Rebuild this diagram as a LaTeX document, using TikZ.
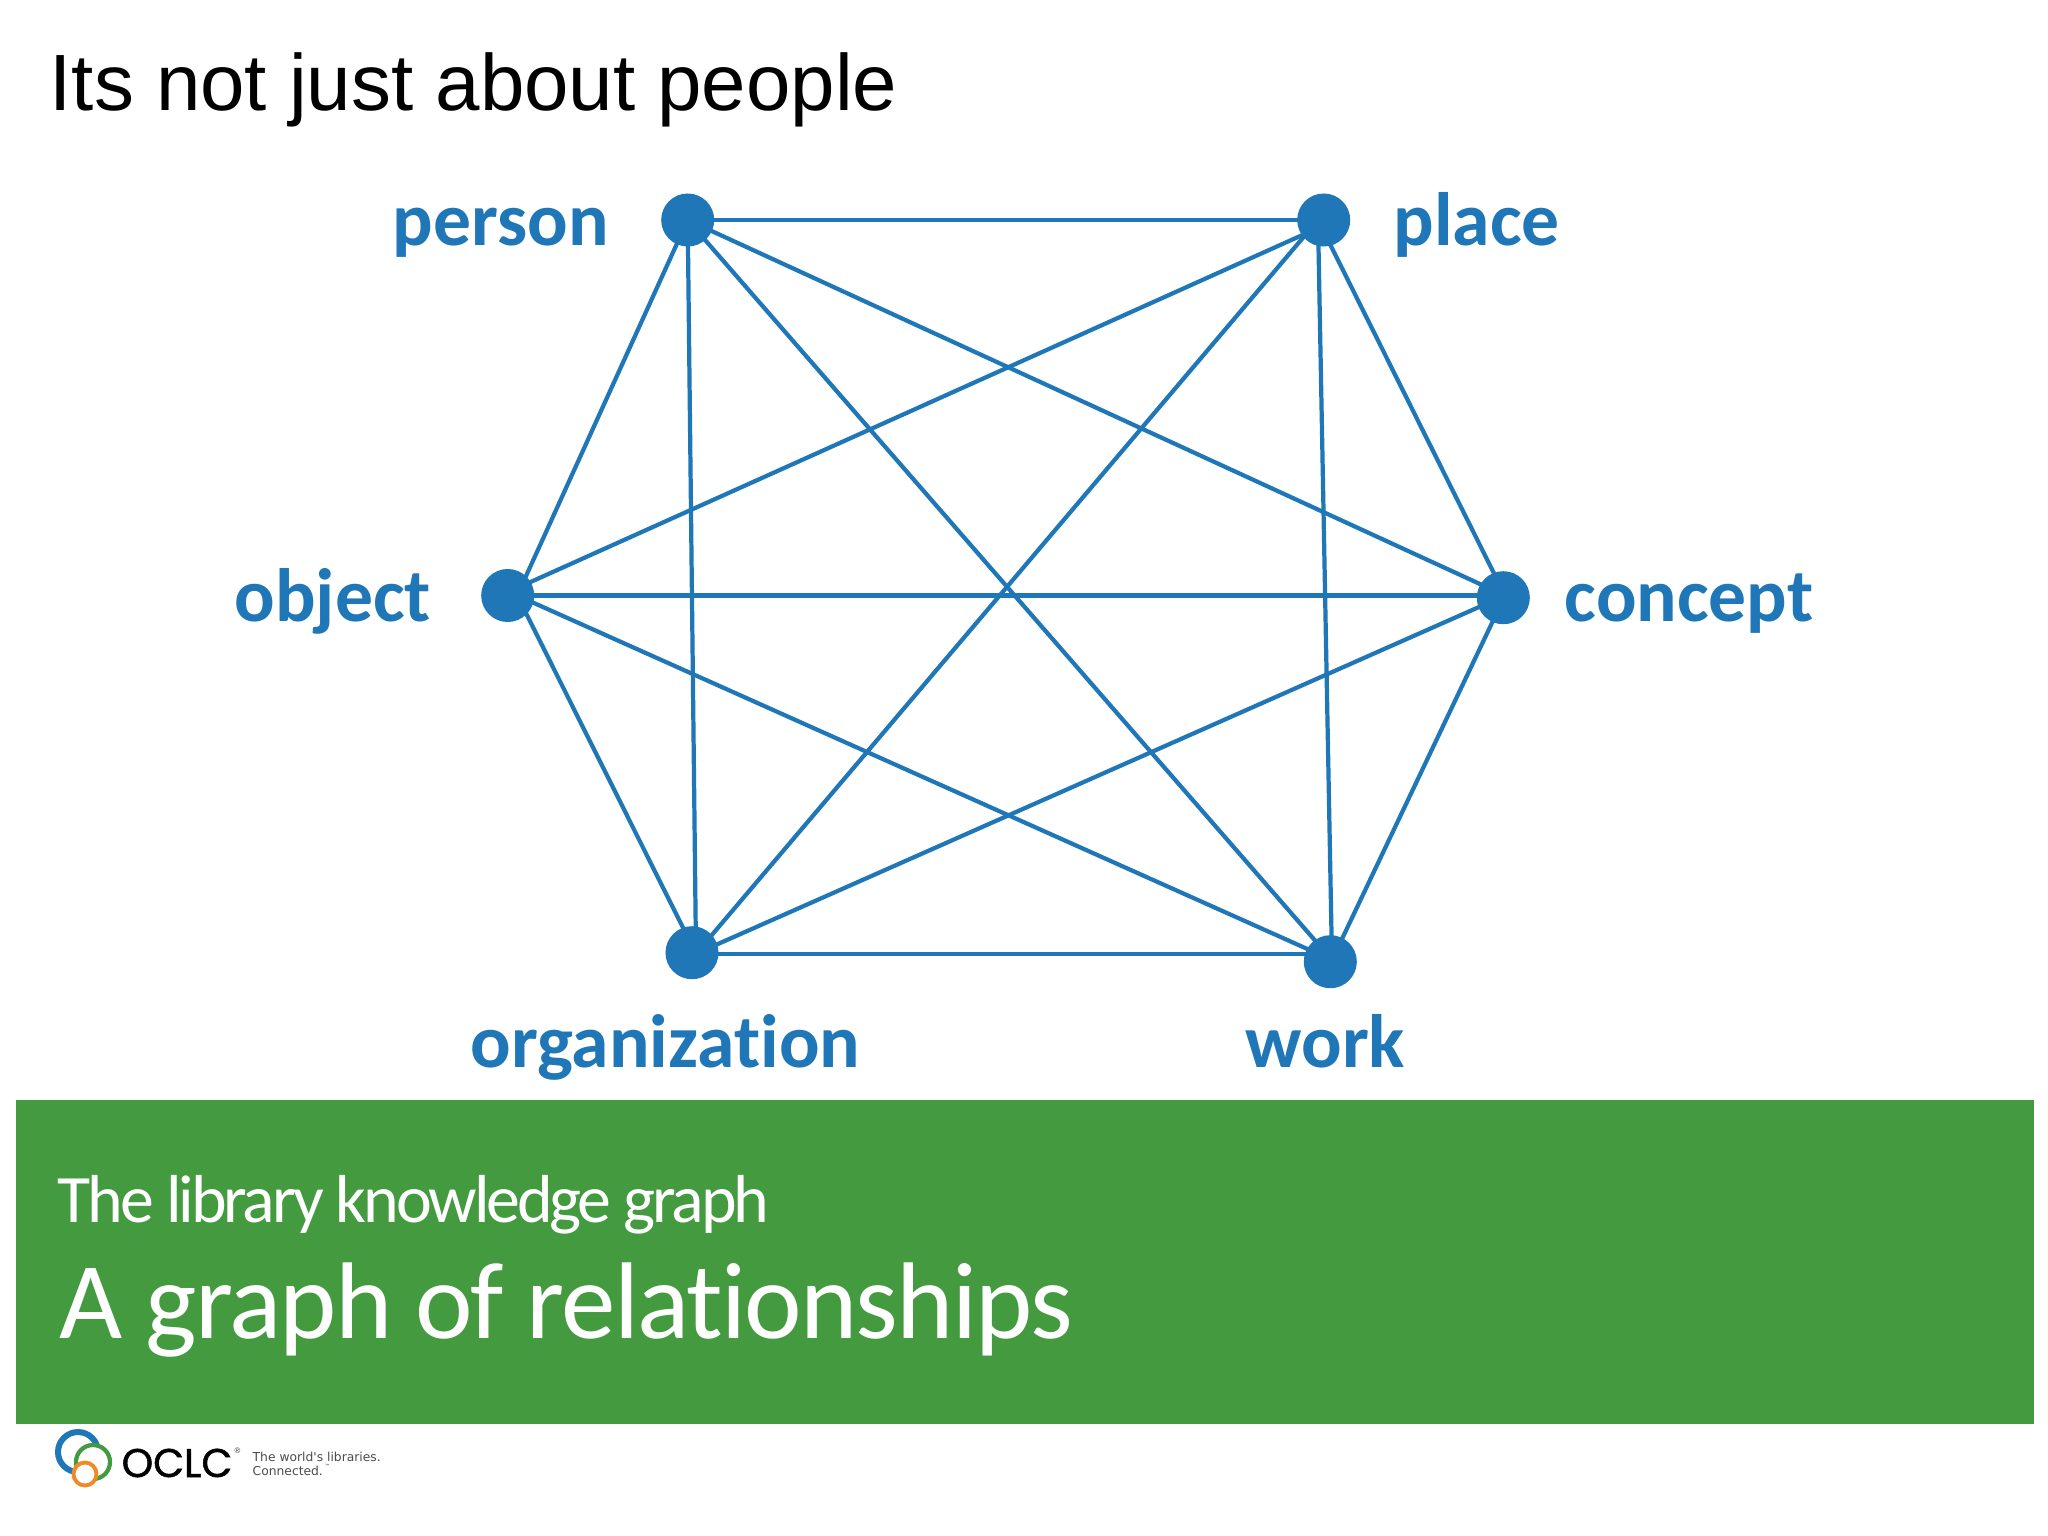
\documentclass[tikz,border=0pt]{standalone}
\usepackage{fontspec}
\setmainfont[Ligatures=NoCommon]{Carlito}
\newfontfamily\titlefont{Liberation Sans}
\newfontfamily\oclcfont[FakeBold=1.3]{Poppins}
\newfontfamily\tagfont{DejaVu Sans}
\usetikzlibrary{backgrounds,calc}
\definecolor{graphblue}{HTML}{1F77B7}
\definecolor{bannergreen}{HTML}{439A3F}
\definecolor{logoorange}{HTML}{F08A24}
\tikzset{
    vertex/.style={circle,fill=graphblue,inner sep=0pt,minimum size=0.53cm},
    edge/.style={graphblue,line width=1.2pt},
    vlabel/.style={anchor=base west,inner sep=0pt,text=graphblue,font=\fontsize{21.5}{24}\selectfont\bfseries},
    banner/.style={anchor=base west,inner sep=0pt,text=white},
    tagline/.style={anchor=base west,inner sep=0pt,text=black!70}
}
\begin{document}
\begin{tikzpicture}[x=0.01cm,y=-0.01cm]
                    \useasboundingbox (0,0) rectangle (2048,1536);

                    \node[anchor=base west,inner sep=0pt,font=\titlefont\fontsize{22.7}{26}\selectfont] (title) at (49,110) {Its not just about people};

                    \node[vertex] (person) at (687.7,220) {};
                    \node[vertex] (place) at (1323.7,220) {};
                    \node[vertex] (object) at (507.7,595.5) {};
                    \node[vertex] (concept) at (1503.3,597.7) {};
                    \node[vertex] (organization) at (692,952.7) {};
                    \node[vertex] (work) at (1330.3,961.7) {};

                    \coordinate (placehub) at ($(place)+(-5.7,0)$);
                    \coordinate (placelow) at ($(place)+(-5.7,8)$);
                    \coordinate (objecthub) at ($(object)+(9.5,0)$);
                    \coordinate (objectup) at ($(object)+(9.5,-7.5)$);
                    \coordinate (concepthub) at ($(concept)+(1.7,-2.2)$);
                    \coordinate (orghub) at ($(organization)+(4,1)$);
                    \coordinate (workhub) at ($(work)+(1.7,-1.7)$);
                    \coordinate (workup) at ($(work)+(1.7,-8)$);

                    \begin{scope}[on background layer]
                    \fill[white] (0,0) rectangle (2048,1536);
                    \draw[edge] (person.center) -- (placehub);
                    \draw[edge] (person.center) -- (objecthub);
                    \draw[edge] (person.center) -- (orghub);
                    \draw[edge] (person.center) -- (workhub);
                    \draw[edge] (person.center) -- (concepthub);
                    \draw[edge] (placelow) -- (objectup);
                    \draw[edge] (placehub) -- (orghub);
                    \draw[edge] (placehub) -- (workhub);
                    \draw[edge] (placehub) -- (concepthub);
                    \draw[edge] (objecthub) -- (concepthub);
                    \draw[edge] (objecthub) -- (workhub);
                    \draw[edge] (objecthub) -- (orghub);
                    \draw[edge] (concepthub) -- (orghub);
                    \draw[edge] (concepthub) -- (workhub);
                    \draw[edge] (orghub) -- (workup);
                    \end{scope}

                    \node[vlabel] (personlabel) at (392,245) {person};
                    \node[vlabel] (placelabel) at (1393,245) {place};
                    \node[vlabel] (objectlabel) at (234,621) {object};
                    \node[vlabel] (conceptlabel) at (1564,621) {concept};
                    \node[vlabel] (organizationlabel) at (470,1067) {organization};
                    \node[vlabel] (worklabel) at (1245,1067) {work};

                    \fill[bannergreen] (16,1100) rectangle (2034,1424);
                    \node[banner,font=\addfontfeatures{LetterSpace=-4.6}\fontsize{19.3}{22}\selectfont] (subhead) at (57,1222) {The library knowledge graph};
                    \node[banner,font=\addfontfeatures{LetterSpace=-1.65}\fontsize{31}{34}\selectfont] (head) at (59,1338) {A graph of relationships};

                    \draw[graphblue,line width=1.7pt] (78,1452) circle (20);
                    \filldraw[fill=white,draw=bannergreen,line width=1.2pt] (93,1462) circle (17);
                    \filldraw[fill=white,draw=logoorange,line width=1.1pt] (85,1474) circle (11.5);

                    \node[anchor=base west,inner sep=0pt,font=\oclcfont\fontsize{11.4}{13}\selectfont] (oclc) at (121,1477) {OCLC};
                    \node[tagline,font=\tagfont\fontsize{2.2}{2.6}\selectfont] (regmark) at (233,1453) {®};
                    \node[tagline,font=\tagfont\fontsize{3.5}{4}\selectfont] (tagone) at (252,1461) {The world's libraries.};
                    \node[tagline,font=\tagfont\fontsize{3.5}{4}\selectfont] (tagtwo) at (252,1475) {Connected.};
                    \node[tagline,font=\tagfont\fontsize{1.6}{2}\selectfont] (tmmark) at (324,1468) {™};
\end{tikzpicture}
\end{document}
